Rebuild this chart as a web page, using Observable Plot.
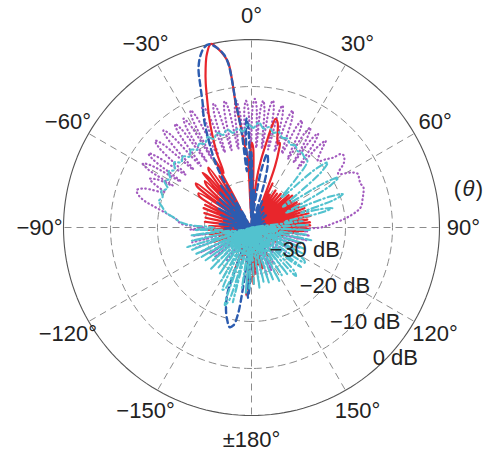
<!DOCTYPE html>
<html><head><meta charset="utf-8">
<script src="https://cdn.jsdelivr.net/npm/d3@7"></script>
<script src="https://cdn.jsdelivr.net/npm/@observablehq/plot@0.6"></script>
<style>body{margin:0;background:#fff} svg{display:block}</style>
</head><body><div id="chart"></div><script>
// ---- tick labels ----
const angleTicks = [0, 30, 60, 90, 120, 150, 180, -150, -120, -90, -60, -30];
const angleLabels = ["0°", "30°", "60°", "90°", "120°", "150°", "±180°", "−150°", "−120°", "−90°", "−60°", "−30°"];
const dbTicks = [-30, -20, -10, 0];
const dbLabels = ["−30 dB", "−20 dB", "−10 dB", "0 dB"];
const dbMin = -40;

// ---- series: [angle (deg, clockwise from top), level (dB)] ----
const purpleDotted = [
 [-180,-40],[-177,-31],[-174,-40],[-171,-33],[-168,-40],[-164,-32],[-161,-40],[-157,-33],[-154,-40],[-150,-34],
 [-147,-40],[-143,-31],[-140,-40],[-136,-32],[-133,-40],[-129,-30],[-126,-40],[-122,-29.5],[-119,-40],[-116,-28],
 [-113,-40],[-110,-27.5],[-107,-40],[-104,-27],[-101,-38],[-98,-27.5],[-95,-36],[-92,-27],[-90,-30],[-87,-25],
 [-84,-24],[-81,-22],[-78,-19],
 [-76,-16.5],[-74,-15],[-72,-14.3],[-70,-15.8],[-68,-20],[-66,-17.5],[-64.5,-16],[-63,-17.5],[-62,-21],[-60.7,-14.8],
 [-59.5,-13.2],[-58.3,-14.8],[-56.9,-22],[-55.4,-14.6],[-54.3,-13],[-53.2,-14.6],[-51.2,-22],[-49.2,-14],[-48,-12.4],[-46.8,-14],
 [-45.1,-22.5],[-43.3,-13.7],[-42.2,-12.1],[-41.1,-13.7],[-39.4,-23],[-37.5,-14.2],[-36.5,-12.6],[-35.5,-14.2],[-34.3,-23],[-33,-14.3],
 [-32,-12.7],[-31,-14.3],[-29.8,-23],[-28.5,-13.5],[-27.5,-11.9],[-26.5,-13.5],[-24.8,-23],[-23,-13.6],[-22,-12],[-21,-13.6],
 [-19.5,-23],[-18,-14],[-17,-12.4],[-16,-14],[-14.5,-23],[-13,-14.1],[-12,-12.5],[-11,-14.1],[-9.5,-23],[-8,-14.4],
 [-7,-12.8],[-6,-14.4],[-4.8,-23],[-3.4,-14.6],[-2.5,-13],[-1.6,-14.6],[-0.5,-23],[0.6,-14.2],[1.5,-12.6],[2.4,-14.2],
 [3.4,-23],[4.4,-14.5],[5.3,-12.9],[6.2,-14.5],[7.5,-23],[8.6,-14.2],[9.6,-12.6],[10.6,-14.2],[12,-23],[13.3,-14.8],
 [14.3,-13.2],[15.3,-14.8],[16.9,-23],[18.4,-15.2],[19.4,-13.6],[20.4,-15.2],[22.3,-23],[24.1,-16.4],[25.2,-14.8],[26.3,-16.4],
 [27.9,-23.5],[29.4,-16.9],[30.5,-15.3],[31.6,-16.9],[32.9,-23.5],[34.2,-17.1],[35.3,-15.5],[36.4,-17.1],[38,-24],[39.5,-17.3],
 [40.6,-15.7],[41.7,-17.3],[45,-20],[47.5,-18.5],[49.5,-17.1],[50.5,-15.4],[52,-15.1],[55,-16],[58.2,-18.3],[61,-15.9],
 [63,-14.7],[66,-14.9],[68,-15],[70.3,-14.7],[72.5,-15],[75,-15.5],[79.6,-16.4],[84,-19.5],[87,-22.5],[90,-25.3],
 [92,-33],[94,-28],[96,-38],[98,-27.5],[100.5,-40],[103,-28],[105.5,-40],[108,-29],[110.5,-40],[113,-29],
 [116,-40],[119,-30],[122,-40],[125,-31],[128,-40],[132,-32],[136,-40],[140,-33],[144,-40],[148,-31],
 [151,-40],[155,-30],[158,-40],[162,-29.5],[165,-40],[168,-30],[171,-40],[174,-30],[177,-40],[180,-40]
];

const cyanDashDot = [
 [-180,-40],[-178,-27],[-176.5,-40],[-175,-26],[-173,-40],[-171,-27],[-169,-40],[-166,-23.6],[-164.5,-40],[-163,-24],
 [-161,-22.5],[-159,-40],[-157,-26],[-155,-25.4],[-153,-40],[-150.5,-27],[-148,-40],[-145.5,-28],[-143,-40],[-140.5,-29],
 [-138,-40],[-135.5,-27.5],[-133,-40],[-130.5,-29],[-128,-40],[-125.5,-28],[-123,-40],[-120.5,-27.5],[-118,-40],[-115.5,-27],
 [-113,-40],[-110.5,-26.5],[-108.5,-36],[-107,-25.7],[-105,-38],[-102.5,-27],[-100,-36],[-97.5,-27],[-95,-34],[-92.5,-28],
 [-90,-32],[-88,-27.5],[-86,-25],[-83,-23.5],[-80,-21.5],[-77,-20.5],[-74,-19.5],[-71,-20],[-68,-19.3],[-65,-20.3],
 [-62,-19],[-59,-19.8],[-56,-18.7],[-53,-19.6],[-50,-18.5],[-47,-19.6],[-44,-19],[-41,-20],[-38,-19],[-35,-19.8],
 [-32,-19],[-29,-19.6],[-26,-18.6],[-23,-19.5],[-20,-18.6],[-17,-19.4],[-14,-18.5],[-11,-19.5],[-8,-18.8],[-5,-19.5],
 [-2,-18],[1,-18.8],[4,-17.6],[7,-18.8],[10,-18.3],[13,-19.3],[16,-18.9],[19,-19.8],[22,-19.6],[25,-20.5],
 [28,-20.2],[31,-21],[34,-20.8],[37,-21.3],[40,-21.5],[42.5,-26],[45,-31],[47.5,-22],[49.5,-18.7],[51.5,-21],
 [54,-28],[56.5,-32],[58.5,-22],[60,-18.7],[62,-21],[64.5,-28],[66.5,-32],[68.5,-22],[70,-19.3],[71.5,-21.5],
 [73.5,-29],[75,-25],[76.5,-22.3],[78,-25],[80.5,-33],[83,-29],[85,-40],[87.5,-28],[90,-40],[92.5,-27.5],
 [95,-40],[97.5,-28],[100,-38],[102,-27],[104.5,-40],[107,-28.5],[109.5,-40],[112,-28],[114.5,-40],[117,-27.5],
 [119.5,-40],[121.5,-27],[123.5,-26.4],[126,-40],[128.5,-26.5],[130.5,-29],[133,-40],[135.5,-27],[137.5,-26],[140,-40],
 [142.5,-27.5],[145,-40],[147.5,-28],[150,-40],[152.5,-27],[155,-40],[157.5,-28],[160,-40],[162.5,-27.5],[165,-40],
 [167.5,-28],[170,-40],[172.5,-27],[175,-40],[177.5,-28],[180,-40]
];

const redSolid = [
 [-180,-40],[-178,-28],[-177,-38],[-175.5,-25.5],[-174,-40],[-172,-31],[-170,-40],[-167,-34],[-165,-40],[-162,-33],
 [-160,-40],[-158.5,-29.5],[-157,-40],[-153,-35],[-150,-40],[-146,-36],[-143,-40],[-139,-35],[-136,-40],[-132,-36],
 [-129,-40],[-125,-34],[-122,-40],[-118,-35],[-115,-40],[-111,-31.5],[-108,-40],[-105,-33],[-102,-40],[-99,-31],
 [-96,-40],[-93,-30.5],[-90.5,-40],[-88,-31],[-85.5,-40],[-83,-30],[-80.5,-40],[-78,-30],[-75.5,-40],[-73,-29.5],
 [-70.5,-40],[-68,-29],[-66,-40],[-64,-29],[-61.5,-40],[-59,-27],[-57,-26.6],[-55,-40],[-53,-25.5],[-51.5,-24.9],
 [-49.5,-40],[-47,-27],[-45,-26],[-43.5,-38],[-42,-24.4],[-40.5,-26],[-39,-40],[-37,-25],[-35.6,-24.3],[-34,-38],
 [-32,-27],[-30.5,-36],[-28.5,-23.4],[-27,-27],[-25,-22.5],
 [-23,-18.7],[-21,-14.8],[-19.4,-11.8],[-17.6,-7.8],[-16.1,-4.8],[-14.5,-2],[-12.5,0],[-10.5,-1.4],[-9,-3],[-8,-4.6],
 [-7.5,-8.5],[-7.3,-13.2],[-6.3,-17.5],[-5.6,-20.3],[-4.4,-23],[-3.2,-24.7],[-2.2,-38],[-1,-24],[0.2,-22],[1.2,-23],
 [2.5,-38],[4,-40],[6,-30],[8,-25.5],[10,-21.5],[11.5,-17.8],[12.5,-16.3],[14,-17],[16,-20],[17.5,-21.3],
 [18.5,-21],[19.5,-22.5],[21,-26],[22.5,-33],[24,-40],[25.5,-29.6],[27,-40],[29,-32],[31,-40],[33,-30.6],
 [35,-40],[37,-31],[39,-40],[41,-30.5],[43,-40],[45,-30],[47,-40],[49,-29.5],[50.5,-40],[52,-29],
 [53.5,-40],[55,-30],[56.5,-40],[58,-29.4],[59.5,-40],[61,-29],[62.5,-40],[64,-28.5],[65.5,-40],[67,-29],
 [68.5,-40],[70,-28],[71.5,-40],[73,-28],[74.5,-40],[76,-27.5],[77.5,-40],[79,-27.2],[80.5,-40],[82,-28],
 [83.5,-40],[85,-27.5],[86.5,-40],[88,-27.5],[89.5,-40],[91,-28],[92.5,-40],[94,-29],[95.5,-40],[97,-30],
 [99,-40],[101,-32],[103,-40],[106,-33],[109,-40],[113,-35],[116,-40],[120,-34],[124,-40],[130,-35],
 [134,-40],[140,-36],[144,-40],[150,-33],[154,-40],[160,-34],[163,-40],[165,-31],[167,-40],[170,-32],
 [172,-40],[174,-35],[176,-30],[177,-40],[178,-28],[180,-40]
];

const blueDashed = [
 [-180,-40],[-178,-27],[-177,-25],[-176,-38],[-173,-40],[-172,-27],[-171,-21],[-169.5,-18.8],[-167.5,-18.3],[-165.5,-19.5],
 [-163.5,-21],[-161.5,-23],[-160,-25],[-158.5,-31],[-156,-40],[-150,-36],[-146,-40],[-140,-37],[-135,-40],[-128,-36],
 [-122,-40],[-115,-37],[-110,-40],[-104,-36],[-98,-40],[-92,-34],[-88,-40],[-84,-33],[-80,-40],[-76,-34],
 [-72,-40],[-68,-33],[-64,-40],[-60,-32],[-57,-40],[-54,-31],[-51,-40],[-48,-31],[-45,-40],[-42,-30],
 [-39,-40],[-36,-29],[-33,-38],[-30.5,-28],[-29,-24],[-27.5,-21.5],[-25.6,-18.3],[-23.5,-14.5],[-21.4,-11.5],[-19.8,-7.8],
 [-18.4,-4.3],[-16.5,-1.8],[-14.5,-0.3],[-13,0],[-11,-1],[-9,-2.8],[-8,-5],[-7.5,-9],[-7.2,-13],[-6,-19],
 [-4.6,-28],[-3.4,-20],[-2.6,-16.8],[-1.8,-19],[-1,-38],[0,-24],[1,-30],[2.5,-40],[4,-32],[6,-40],
 [8,-33],[10,-27],[12,-24],[14,-25.5],[16,-30],[18,-40],[22,-34],[25,-40],[30,-35],[34,-40],
 [40,-36],[45,-40],[50,-36],[55,-40],[62,-37],[68,-40],[75,-37],[82,-40],[90,-36],[98,-40],
 [110,-38],[120,-40],[130,-38],[140,-40],[150,-34],[155,-40],[162,-37],[168,-40],[174,-36],[180,-40]
];

// ---- polar helpers ----
const W = 487, H = 451;
const K = 4.7;            // pixels per dB
const CX = 251, CY = 227; // pole position in the frame
const toRad = Math.PI / 180;
const rad = db => Math.max(0, db - dbMin);
const px = (a, db) => rad(db) * Math.sin(a * toRad);
const py = (a, db) => rad(db) * Math.cos(a * toRad);

const circleAngles = d3.range(-180, 181, 2);
const outerRing = circleAngles.map(a => ({a, db: 0}));
const innerRings = dbTicks.filter(d => d < 0).flatMap(db => circleAngles.map(a => ({a, db})));

const labelR = 45.1; // in dB units from the pole
const gridColor = "#8c8c8c";

const series = (data, opts) => Plot.line(data, {
  x: d => px(d[0], d[1]), y: d => py(d[0], d[1]),
  curve: "catmull-rom", strokeLinejoin: "round", ...opts
});

const thetaX = 46.9 * Math.sin(79.8 * toRad), thetaY = 46.9 * Math.cos(79.8 * toRad);

const chart = Plot.plot({
  width: W, height: H, margin: 0,
  style: {fontFamily: "'Liberation Sans', Arial, Helvetica, sans-serif", background: "#fff"},
  x: {domain: [-CX / K, (W - CX) / K], range: [0, W], axis: null},
  y: {domain: [-(H - CY) / K, CY / K], range: [H, 0], axis: null},
  marks: [
    Plot.line(innerRings, {x: d => px(d.a, d.db), y: d => py(d.a, d.db), z: "db", stroke: gridColor, strokeWidth: 1, strokeDasharray: "7,5"}),
    Plot.link(angleTicks, {x1: 0, y1: 0, x2: a => px(a, 0), y2: a => py(a, 0), stroke: gridColor, strokeWidth: 1, strokeDasharray: "7,5"}),
    Plot.line(outerRing, {x: d => px(d.a, d.db), y: d => py(d.a, d.db), stroke: "#555", strokeWidth: 1.1}),
    series(purpleDotted, {stroke: "#a35bbf", strokeWidth: 2.2, strokeDasharray: "0.6,3.4", strokeLinecap: "round"}),
    series(redSolid, {stroke: "#e8262c", strokeWidth: 2.2}),
    series(blueDashed, {stroke: "#2c5cb0", strokeWidth: 2.4, strokeDasharray: "6,4"}),
    series(cyanDashDot, {stroke: "#52c2cf", strokeWidth: 2.1, strokeDasharray: "7,3,1.5,3"}),
    Plot.text(angleTicks, {x: a => labelR * Math.sin(a * toRad), y: a => labelR * Math.cos(a * toRad),
      text: (d, i) => angleLabels[i], fontSize: 22, fill: "#222"}),
    Plot.text(dbTicks, {x: d => px(140, d), y: d => py(140, d), dx: 23, dy: -14,
      text: (d, i) => dbLabels[i], fontSize: 22, fill: "#222"}),
    Plot.text(["("], {x: () => thetaX, y: () => thetaY, dx: -11, text: d => d, fontSize: 22, fill: "#222"}),
    Plot.text(["θ"], {x: () => thetaX, y: () => thetaY, text: d => d, fontSize: 22, fontStyle: "italic", fill: "#222"}),
    Plot.text([")"], {x: () => thetaX, y: () => thetaY, dx: 11, text: d => d, fontSize: 22, fill: "#222"})
  ]
});
document.getElementById("chart").append(chart);
</script></body></html>
